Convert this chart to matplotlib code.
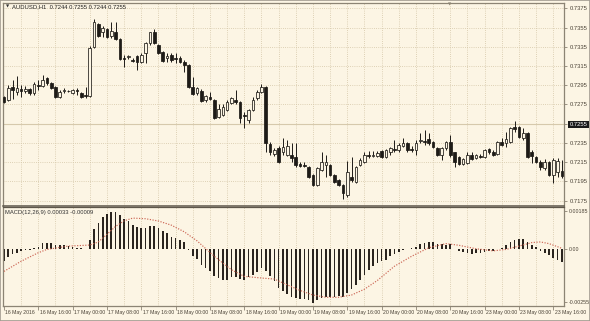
import matplotlib
matplotlib.use('Agg')
import matplotlib.pyplot as plt
import matplotlib.transforms as mtransforms
from matplotlib.patches import Rectangle

plt.rcParams['font.family'] = ['Liberation Sans', 'DejaVu Sans']

# ---------------------------------------------------------------------------
# AUDUSD H1 candles, bar 0 = 16 May 2016 08:00
opens = [
    0.7283, 0.7280, 0.7293, 0.7288, 0.7291, 0.7289, 0.7291, 0.7287, 0.7295, 0.7294,
    0.7303, 0.7297, 0.7293, 0.7283, 0.7289, 0.7289, 0.7287, 0.7290, 0.7287, 0.7285,
    0.7284, 0.7335, 0.7359, 0.7351, 0.7354, 0.7346, 0.7351, 0.7343, 0.7323, 0.7324,
    0.7321, 0.7325, 0.7319, 0.7329, 0.7339, 0.7350, 0.7337, 0.7330, 0.7323, 0.7327,
    0.7323, 0.7323, 0.7319, 0.7316, 0.7293, 0.7287, 0.7289, 0.7280, 0.7283, 0.7280,
    0.7262, 0.7264, 0.7269, 0.7277, 0.7280, 0.7278, 0.7264, 0.7259, 0.7269, 0.7282,
    0.7288, 0.7293, 0.7234, 0.7223, 0.7230, 0.7225, 0.7222, 0.7222, 0.7220, 0.7213,
    0.7212, 0.7210, 0.7202, 0.7191, 0.7207, 0.7212, 0.7212, 0.7202, 0.7196, 0.7191,
    0.7181, 0.7200, 0.7194, 0.7212, 0.7215, 0.7222, 0.7221, 0.7221, 0.7227, 0.7220,
    0.7225, 0.7229, 0.7228, 0.7232, 0.7235, 0.7229, 0.7228, 0.7237, 0.7237, 0.7239,
    0.7236, 0.7230, 0.7222, 0.7230, 0.7236, 0.7225, 0.7220, 0.7213, 0.7214, 0.7222,
    0.7219, 0.7221, 0.7220, 0.7229, 0.7226, 0.7223, 0.7236, 0.7235, 0.7236, 0.7252,
    0.7252, 0.7240, 0.7245, 0.7225, 0.7220, 0.7215, 0.7209, 0.7215, 0.7202, 0.7205,
    0.7206]
highs = [
    0.7284, 0.7295, 0.7300, 0.7305, 0.7295, 0.7294, 0.7292, 0.7298, 0.7300, 0.7306,
    0.7304, 0.7298, 0.7294, 0.7290, 0.7292, 0.7290, 0.7291, 0.7292, 0.7288, 0.7293,
    0.7336, 0.7364, 0.7360, 0.7357, 0.7355, 0.7361, 0.7361, 0.7344, 0.7327, 0.7327,
    0.7323, 0.7327, 0.7329, 0.7340, 0.7351, 0.7354, 0.7338, 0.7331, 0.7329, 0.7329,
    0.7329, 0.7325, 0.7321, 0.7317, 0.7304, 0.7293, 0.7291, 0.7285, 0.7288, 0.7281,
    0.7275, 0.7276, 0.7280, 0.7283, 0.7290, 0.7279, 0.7267, 0.7270, 0.7283, 0.7290,
    0.7296, 0.7294, 0.7236, 0.7230, 0.7232, 0.7240, 0.7238, 0.7235, 0.7235, 0.7215,
    0.7215, 0.7211, 0.7203, 0.7210, 0.7225, 0.7222, 0.7213, 0.7203, 0.7197, 0.7192,
    0.7216, 0.7220, 0.7211, 0.7219, 0.7226, 0.7227, 0.7227, 0.7227, 0.7228, 0.7229,
    0.7231, 0.7238, 0.7235, 0.7240, 0.7236, 0.7232, 0.7238, 0.7245, 0.7248, 0.7245,
    0.7237, 0.7231, 0.7231, 0.7237, 0.7243, 0.7226, 0.7221, 0.7219, 0.7225, 0.7225,
    0.7223, 0.7223, 0.7229, 0.7230, 0.7228, 0.7237, 0.7240, 0.7246, 0.7252, 0.7258,
    0.7253, 0.7250, 0.7246, 0.7228, 0.7221, 0.7217, 0.7218, 0.7216, 0.7219, 0.7219,
    0.7217]
lows = [
    0.7277, 0.7279, 0.7281, 0.7285, 0.7283, 0.7287, 0.7285, 0.7285, 0.7290, 0.7293,
    0.7295, 0.7291, 0.7282, 0.7282, 0.7287, 0.7288, 0.7286, 0.7285, 0.7282, 0.7282,
    0.7283, 0.7334, 0.7345, 0.7345, 0.7344, 0.7344, 0.7342, 0.7321, 0.7314, 0.7322,
    0.7319, 0.7311, 0.7318, 0.7318, 0.7337, 0.7338, 0.7328, 0.7319, 0.7319, 0.7319,
    0.7318, 0.7318, 0.7309, 0.7292, 0.7285, 0.7285, 0.7278, 0.7278, 0.7280, 0.7260,
    0.7261, 0.7263, 0.7268, 0.7275, 0.7276, 0.7256, 0.7250, 0.7256, 0.7268, 0.7280,
    0.7287, 0.7225, 0.7222, 0.7221, 0.7214, 0.7222, 0.7221, 0.7215, 0.7210, 0.7210,
    0.7210, 0.7198, 0.7190, 0.7190, 0.7206, 0.7200, 0.7201, 0.7193, 0.7190, 0.7177,
    0.7179, 0.7194, 0.7193, 0.7211, 0.7214, 0.7219, 0.7220, 0.7220, 0.7219, 0.7219,
    0.7222, 0.7226, 0.7225, 0.7231, 0.7226, 0.7225, 0.7222, 0.7235, 0.7233, 0.7233,
    0.7230, 0.7221, 0.7217, 0.7228, 0.7220, 0.7210, 0.7212, 0.7212, 0.7213, 0.7217,
    0.7218, 0.7219, 0.7219, 0.7223, 0.7221, 0.7222, 0.7232, 0.7231, 0.7235, 0.7246,
    0.7240, 0.7238, 0.7219, 0.7214, 0.7214, 0.7207, 0.7207, 0.7201, 0.7193, 0.7200,
    0.7198]
closes = [
    0.7278, 0.7292, 0.7290, 0.7292, 0.7289, 0.7291, 0.7287, 0.7296, 0.7294, 0.7300,
    0.7297, 0.7292, 0.7283, 0.7288, 0.7290, 0.7289, 0.7290, 0.7289, 0.7283, 0.7284,
    0.7334, 0.7361, 0.7346, 0.7355, 0.7345, 0.7352, 0.7343, 0.7322, 0.7322, 0.7325,
    0.7320, 0.7319, 0.7327, 0.7339, 0.7350, 0.7339, 0.7329, 0.7320, 0.7325, 0.7321,
    0.7322, 0.7319, 0.7316, 0.7293, 0.7286, 0.7292, 0.7279, 0.7284, 0.7281, 0.7261,
    0.7270, 0.7272, 0.7278, 0.7282, 0.7278, 0.7261, 0.7263, 0.7269, 0.7280, 0.7288,
    0.7293, 0.7235, 0.7225, 0.7228, 0.7215, 0.7231, 0.7232, 0.7219, 0.7212, 0.7211,
    0.7211, 0.7200, 0.7191, 0.7209, 0.7215, 0.7215, 0.7202, 0.7194, 0.7191, 0.7183,
    0.7205, 0.7196, 0.7210, 0.7217, 0.7222, 0.7221, 0.7222, 0.7224, 0.7220, 0.7228,
    0.7230, 0.7228, 0.7233, 0.7235, 0.7228, 0.7228, 0.7235, 0.7238, 0.7236, 0.7235,
    0.7231, 0.7222, 0.7230, 0.7236, 0.7222, 0.7215, 0.7213, 0.7218, 0.7222, 0.7218,
    0.7222, 0.7220, 0.7228, 0.7225, 0.7222, 0.7236, 0.7233, 0.7239, 0.7251, 0.7249,
    0.7241, 0.7245, 0.7220, 0.7221, 0.7215, 0.7210, 0.7215, 0.7202, 0.7217, 0.7216,
    0.7201]

# MACD(12,26,9) main values (histogram), one per bar
macd = [
    -0.00057, -0.00036, -0.00024, -0.00016, -0.00008, -0.00003, -0.00002, 0.00008, 0.00011, 0.00033,
    0.00033, 0.00033, 0.00021, 0.00020, 0.00020, 0.00016, 0.00013, 0.00008, 0.00005, 0.00003,
    0.00044, 0.00098, 0.00127, 0.00154, 0.00171, 0.00179, 0.00182, 0.00166, 0.00146, 0.00135,
    0.00119, 0.00109, 0.00101, 0.00101, 0.00114, 0.00114, 0.00101, 0.00089, 0.00081, 0.00062,
    0.00057, 0.00046, 0.00036, -0.00001, -0.00033, -0.00046, -0.00073, -0.00089, -0.00106, -0.00127,
    -0.00138, -0.00146, -0.00146, -0.00133, -0.00133, -0.00143, -0.00146, -0.00133, -0.00122, -0.00111,
    -0.00089, -0.00106, -0.00127, -0.00154, -0.00187, -0.00203, -0.00216, -0.00228, -0.00236, -0.00239,
    -0.00241, -0.00244, -0.00257, -0.00244, -0.00236, -0.00228, -0.00228, -0.00228, -0.00224, -0.00228,
    -0.00211, -0.00192, -0.00171, -0.00146, -0.00122, -0.00101, -0.00081, -0.00065, -0.00057, -0.00049,
    -0.00033, -0.00024, -0.00013, -0.00003, 0.00003, 0.00008, 0.00013, 0.00024, 0.00033, 0.00037,
    0.00036, 0.00024, 0.00024, 0.00021, 0.00024, 0.00003, -0.00008, -0.00013, -0.00016, -0.00020,
    -0.00016, -0.00016, -0.00013, -0.00008, -0.00008, 0.00000, 0.00008, 0.00020, 0.00036, 0.00046,
    0.00052, 0.00049, 0.00036, 0.00023, 0.00010, -0.00008, -0.00016, -0.00029, -0.00041, -0.00049,
    -0.00062]

# signal line, read at these bars
signal_bars = [0, 4, 8, 10, 15, 20, 22, 24, 26, 28, 30, 33, 36, 39, 42, 45, 49, 53, 56, 60,
               63, 66, 69, 72, 75, 78, 81, 84, 87, 91, 95, 99, 103, 106, 110, 114, 117, 120,
               123, 125, 127, 129, 130]
signal = [-0.00106, -0.00057, -0.00016, 0.00000, 0.00016, 0.00021, 0.00036, 0.00073, 0.00111,
          0.00138, 0.00151, 0.00148, 0.00137, 0.00117, 0.00085, 0.00041, -0.00033, -0.00098,
          -0.00130, -0.00138, -0.00143, -0.00171, -0.00198, -0.00220, -0.00231, -0.00231,
          -0.00220, -0.00192, -0.00150, -0.00081, -0.00033, 0.00008, 0.00028, 0.00020, 0.00003,
          -0.00007, 0.00000, 0.00016, 0.00033, 0.00036, 0.00028, 0.00013, 0.00005]

price_levels = [0.7175, 0.7195, 0.7215, 0.7235, 0.7255, 0.7275, 0.7295, 0.7315, 0.7335, 0.7355, 0.7375]
price_labels = ['0.7175', '0.7195', '0.7215', '0.7235', '0.7255', '0.7275', '0.7295',
                '0.7315', '0.7335', '0.7355', '0.7375']
bid = 0.7255
macd_levels = [-0.00255, 0.0, 0.00185]
macd_labels = ['-0.00255', '0.00', '0.00185']

time_bars = [0, 8, 16, 24, 32, 40, 48, 56, 64, 72, 80, 88, 96, 104, 112, 120, 128]
time_labels = ['16 May 2016', '16 May 16:00', '17 May 00:00', '17 May 08:00', '17 May 16:00',
               '18 May 00:00', '18 May 08:00', '18 May 16:00', '19 May 00:00', '19 May 08:00',
               '19 May 16:00', '20 May 00:00', '20 May 08:00', '20 May 16:00', '23 May 00:00',
               '23 May 08:00', '23 May 16:00']
# ---------------------------------------------------------------------------

BG = '#FCF5E4'
GRID = '#D3C5A6'
TXT = '#4A4236'
DARK = '#1E1B17'
SPINE = '#8C8474'
FS = 4.2
W, H = 590, 321

fig = plt.figure(figsize=(W / 100, H / 100), dpi=100)
fig.patch.set_facecolor(BG)


def px_box(x0, y0, x1, y1):
    return [x0 / W, 1 - y1 / H, (x1 - x0) / W, (y1 - y0) / H]


ax = fig.add_axes(px_box(3, 3, 564, 205.5))
axm = fig.add_axes(px_box(3, 206.5, 564, 306))

n = len(opens)
xs = list(range(n))

for a in (ax, axm):
    a.set_facecolor(BG)
    a.set_xlim(-0.23, 130.5)
    for i in range(4, n, 4):
        a.axvline(i, color=GRID, lw=0.6, ls=(0, (1, 1.6)), zorder=0)
    for s in a.spines.values():
        s.set_color(SPINE)
        s.set_linewidth(0.9)
    a.yaxis.tick_right()
    a.tick_params(axis='y', length=2.5, width=0.6, pad=1.5, colors=SPINE,
                  labelsize=FS, labelcolor=TXT)

ax.spines['bottom'].set_color('#5E574B')
ax.spines['bottom'].set_linewidth(1.1)
axm.spines['top'].set_color('#5E574B')
axm.spines['top'].set_linewidth(0.9)

# main price panel
ax.set_ylim(0.71698, 0.73807)
for p in price_levels:
    ax.axhline(p, color=GRID, lw=0.6, ls=(0, (1, 1.6)), zorder=0)
ax.axhline(bid, color='#D6C9AC', lw=0.8, zorder=1)

body_bottom = [min(o, c) for o, c in zip(opens, closes)]
body_height = [max(abs(c - o), 0.000012) for o, c in zip(opens, closes)]
face = [BG if c > o else DARK for o, c in zip(opens, closes)]
ax.vlines(xs, lows, highs, color=DARK, lw=0.7, zorder=2)
ax.bar(xs, body_height, bottom=body_bottom, width=0.62, color=face,
       edgecolor=DARK, linewidth=0.55, zorder=3)

ax.set_xticks([])
ax.set_yticks(price_levels)
ax.set_yticklabels(price_labels)
for lab in ax.get_yticklabels():
    if lab.get_text() == '0.7255':
        lab.set_color('white')
        lab.set_bbox(dict(facecolor='#1A1A1A', edgecolor='none', pad=0.8))

# MACD panel
axm.set_ylim(-0.00273, 0.00207)
axm.bar(xs, macd, width=0.38, color='#2A241E', zorder=2)
axm.plot(signal_bars, signal, color='#CC6655', lw=0.85, ls=(0, (1, 1.3)), zorder=3)
axm.set_yticks(macd_levels)
axm.set_yticklabels(macd_labels)
axm.tick_params(axis='y', labelsize=3.8, pad=1.2)
axm.set_xticks(time_bars)
axm.tick_params(axis='x', length=3, width=0.6, colors=SPINE, labelbottom=False)

trans = mtransforms.blended_transform_factory(axm.transData, axm.transAxes)
for b, t in zip(time_bars, time_labels):
    axm.text(b + 0.3, -0.045, t, transform=trans, ha='left', va='top',
             fontsize=3.7, color=TXT, clip_on=False)

# headers
fig.text(5.5 / W, 1 - 7 / H, '\u25bc', fontsize=3, color='#333333', va='center',
         family='DejaVu Sans')
fig.text(12 / W, 1 - 7 / H, 'AUDUSD,H1  0.7244 0.7255 0.7244 0.7255', fontsize=FS,
         color='#222222', va='center')
fig.text(5 / W, 1 - 212.5 / H, 'MACD(12,26,9) 0.00033 -0.00009', fontsize=FS,
         color='#333333', va='center')
fig.text(450 / W, 1 - 5 / H, '\u25bc', fontsize=3, color='#8C8474', ha='center',
         va='center', family='DejaVu Sans')

fig.patches.append(Rectangle((0, 0), 1, 1, transform=fig.transFigure, fill=False,
                             edgecolor='#A39C90', linewidth=1.2))

fig.savefig('out.png', dpi=100, facecolor=BG)
